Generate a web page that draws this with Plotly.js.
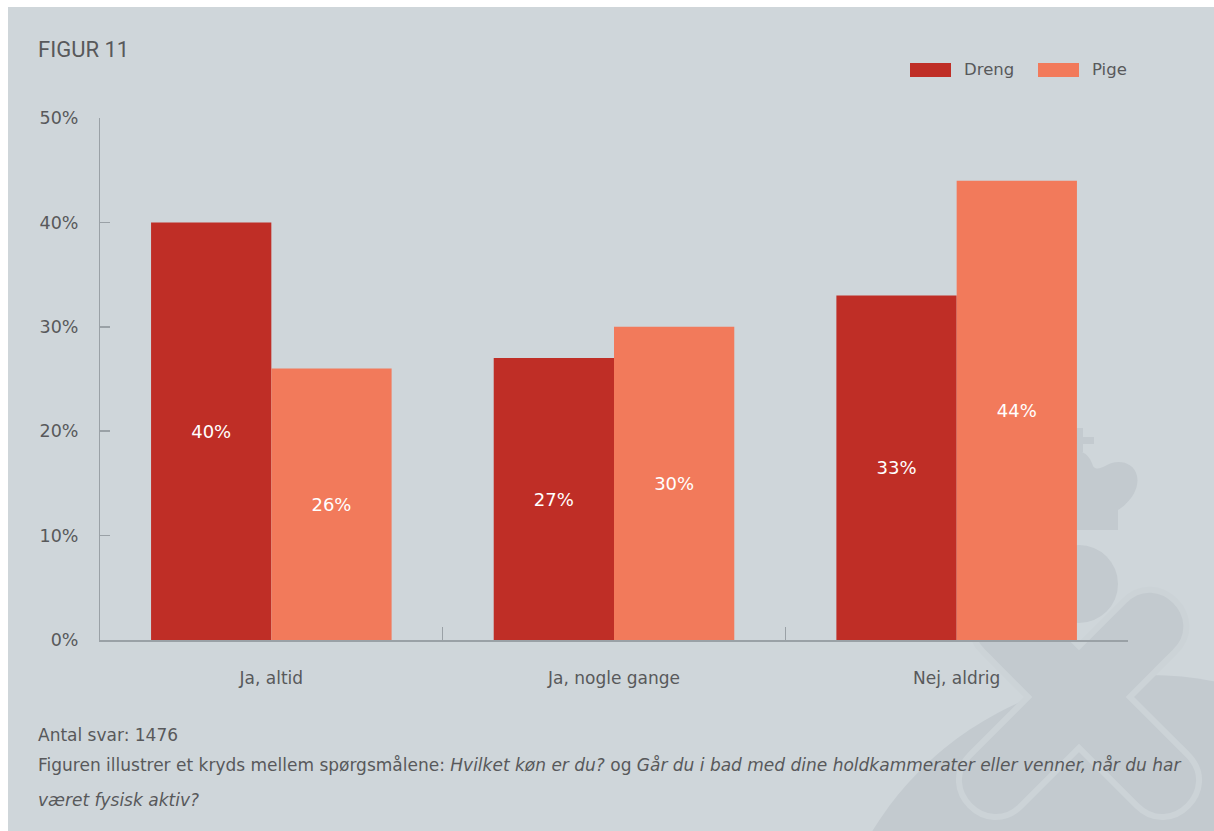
<!DOCTYPE html>
<html>
<head>
<meta charset="utf-8">
<script src="https://cdn.plot.ly/plotly-3.0.1.min.js"></script>
<style>
  html, body { margin: 0; padding: 0; background: #ffffff; width: 1214px; height: 831px; overflow: hidden; }
  #chart { position: absolute; left: 8px; top: 7px; width: 1206px; height: 824px; }
</style>
</head>
<body>
<div id="chart"></div>
<script>
// ---- data ----
const categories = ['Ja, altid', 'Ja, nogle gange', 'Nej, aldrig'];
const seriesNames = ['Dreng', 'Pige'];
const drengValues = [40, 27, 33];
const pigeValues = [26, 30, 44];
const yTickVals = [0, 10, 20, 30, 40, 50];
const yTickText = ['0%', '10%', '20%', '30%', '40%', '50%'];
const figureTitle = 'FIGUR 11';
const footerLine1 = 'Antal svar: 1476';
const footerLine2 = 'Figuren illustrer et kryds mellem spørgsmålene: <i>Hvilket køn er du?</i> og <i>Går du i bad med dine holdkammerater eller venner, når du har</i>';
const footerLine3 = '<i>været fysisk aktiv?</i>';

// ---- styles ----
const BG = '#cfd6da';
const DARK = '#c3cacf';
const TXT = '#58595b';
const AXIS = '#9aa1a6';
const C_DRENG = '#bf2e26';
const C_PIGE = '#f27a5b';
const FONT = '"DejaVu Sans", "Open Sans", sans-serif';
const TITLE_FONT = 'Roboto, "DejaVu Sans", sans-serif';

// page-pixel -> paper coordinate helpers (plot area: x 100..1128, y 118..640 on page)
const PL = 100, PR = 1128, PT = 118, PB = 640;
const px = x => (x - PL) / (PR - PL);
const py = y => (PB - y) / (PB - PT);
const pt = (x, y) => px(x).toFixed(5) + ',' + py(y).toFixed(5);

// ---- watermark (decorative) ----
function xPath(cx, cy, h, Lup, Ldown) {
  const a = Math.SQRT1_2, s = h * Math.SQRT2, k = 1.333 * h;
  const arms = [
    { d: [a, -a], L: Lup },   // up-right
    { d: [a, a], L: Ldown },  // down-right
    { d: [-a, a], L: Ldown }, // down-left
    { d: [-a, -a], L: Lup }   // up-left
  ];
  const notches = [[cx, cy - s], [cx + s, cy], [cx, cy + s], [cx - s, cy]];
  let p = 'M' + pt(notches[0][0], notches[0][1]);
  arms.forEach((arm, i) => {
    const [dx, dy] = arm.d; const n = [dy, -dx];
    const ex = cx + arm.L * dx, ey = cy + arm.L * dy;
    const A = [ex + h * n[0], ey + h * n[1]];
    const B = [ex - h * n[0], ey - h * n[1]];
    p += ' L' + pt(A[0], A[1]);
    p += ' C' + pt(A[0] + k * dx, A[1] + k * dy) + ' ' + pt(B[0] + k * dx, B[1] + k * dy) + ' ' + pt(B[0], B[1]);
    const nn = notches[(i + 1) % 4];
    p += ' L' + pt(nn[0], nn[1]);
  });
  return p + ' Z';
}
function circ(cx, cy, r, color) {
  return { type: 'circle', xref: 'paper', yref: 'paper', layer: 'below',
    x0: px(cx - r), x1: px(cx + r), y0: py(cy + r), y1: py(cy - r),
    fillcolor: color, line: { width: 0 } };
}
function rect(x0, y0, x1, y1, color) {
  return { type: 'rect', xref: 'paper', yref: 'paper', layer: 'below',
    x0: px(x0), x1: px(x1), y0: py(y1), y1: py(y0), fillcolor: color, line: { width: 0 } };
}
const crownPath = 'M' + pt(1066, 530) + ' L' + pt(1118, 530) + ' L' + pt(1118, 510) +
  ' C' + pt(1128, 504) + ' ' + pt(1140, 490) + ' ' + pt(1137, 476) +
  ' C' + pt(1134, 462) + ' ' + pt(1118, 459) + ' ' + pt(1107, 465) +
  ' C' + pt(1100, 469) + ' ' + pt(1096, 470) + ' ' + pt(1093, 466) +
  ' C' + pt(1091, 459) + ' ' + pt(1087, 454) + ' ' + pt(1082, 452) +
  ' L' + pt(1066, 452) + ' Z';

const shapes = [
  circ(1150, 1000, 325, DARK),
  { type: 'path', xref: 'paper', yref: 'paper', layer: 'below', path: xPath(1079, 697, 36, 100, 118),
    fillcolor: DARK, line: { color: '#ccd3d7', width: 6 } },
  circ(1079, 584, 39, DARK),
  { type: 'path', xref: 'paper', yref: 'paper', layer: 'below', path: crownPath, fillcolor: DARK, line: { width: 0 } },
  rect(1077, 428, 1083, 452, DARK),
  rect(1074, 437, 1094, 444, DARK),
  // custom legend swatches
  { type: 'rect', xref: 'paper', yref: 'paper', x0: px(910), x1: px(951), y0: py(77), y1: py(63), fillcolor: C_DRENG, line: { width: 0 } },
  { type: 'rect', xref: 'paper', yref: 'paper', x0: px(1038), x1: px(1079), y0: py(77), y1: py(63), fillcolor: C_PIGE, line: { width: 0 } }
];

const annotations = [
  { xref: 'paper', yref: 'paper', x: px(962), y: py(70), xanchor: 'left', yanchor: 'middle', showarrow: false,
    text: seriesNames[0], font: { family: FONT, size: 16.5, color: TXT } },
  { xref: 'paper', yref: 'paper', x: px(1090), y: py(70), xanchor: 'left', yanchor: 'middle', showarrow: false,
    text: seriesNames[1], font: { family: FONT, size: 16.5, color: TXT } },
  { xref: 'paper', yref: 'paper', x: px(36), y: py(49), xanchor: 'left', yanchor: 'middle', showarrow: false,
    text: figureTitle, font: { family: TITLE_FONT, size: 22, color: TXT } },
  { xref: 'paper', yref: 'paper', x: px(36), y: py(735), xanchor: 'left', yanchor: 'middle', showarrow: false,
    text: footerLine1, font: { family: FONT, size: 17, color: TXT } },
  { xref: 'paper', yref: 'paper', x: px(36), y: py(765), xanchor: 'left', yanchor: 'middle', showarrow: false,
    text: footerLine2, font: { family: FONT, size: 17, color: TXT } },
  { xref: 'paper', yref: 'paper', x: px(36), y: py(800), xanchor: 'left', yanchor: 'middle', showarrow: false,
    text: footerLine3, font: { family: FONT, size: 17, color: TXT } }
];

const traces = [
  { type: 'bar', name: seriesNames[0], x: categories, y: drengValues,
    marker: { color: C_DRENG, line: { width: 0 } },
    text: drengValues.map(v => v + '%'), textposition: 'inside', insidetextanchor: 'middle',
    textfont: { family: FONT, size: 18, color: '#ffffff' }, hoverinfo: 'x+y', showlegend: false },
  { type: 'bar', name: seriesNames[1], x: categories, y: pigeValues,
    marker: { color: C_PIGE, line: { width: 0 } },
    text: pigeValues.map(v => v + '%'), textposition: 'inside', insidetextanchor: 'middle',
    textfont: { family: FONT, size: 18, color: '#ffffff' }, hoverinfo: 'x+y', showlegend: false }
];

const layout = {
  width: 1206, height: 824,
  margin: { l: 92, r: 86, t: 111, b: 191, pad: 0 },
  paper_bgcolor: BG, plot_bgcolor: 'rgba(0,0,0,0)',
  font: { family: FONT, size: 17, color: TXT },
  barmode: 'group', bargap: 0.298, bargroupgap: 0,
  showlegend: false,
  xaxis: {
    type: 'category', showline: true, linecolor: AXIS, linewidth: 1.5,
    ticks: 'inside', tickson: 'boundaries', ticklen: 13, tickwidth: 1.5, tickcolor: AXIS,
    showgrid: false, zeroline: false, ticklabelstandoff: 22,
    tickfont: { family: FONT, size: 17, color: TXT }
  },
  yaxis: {
    range: [0, 50], tickvals: yTickVals, ticktext: yTickText,
    showline: true, linecolor: AXIS, linewidth: 1, ticks: 'inside', ticklen: 10, tickwidth: 1.5, tickcolor: AXIS,
    showgrid: false, zeroline: false, ticklabelstandoff: 17,
    tickfont: { family: FONT, size: 17.5, color: TXT }
  },
  shapes: shapes,
  annotations: annotations
};

Plotly.newPlot('chart', traces, layout, { displayModeBar: false, staticPlot: true });
</script>
</body>
</html>
